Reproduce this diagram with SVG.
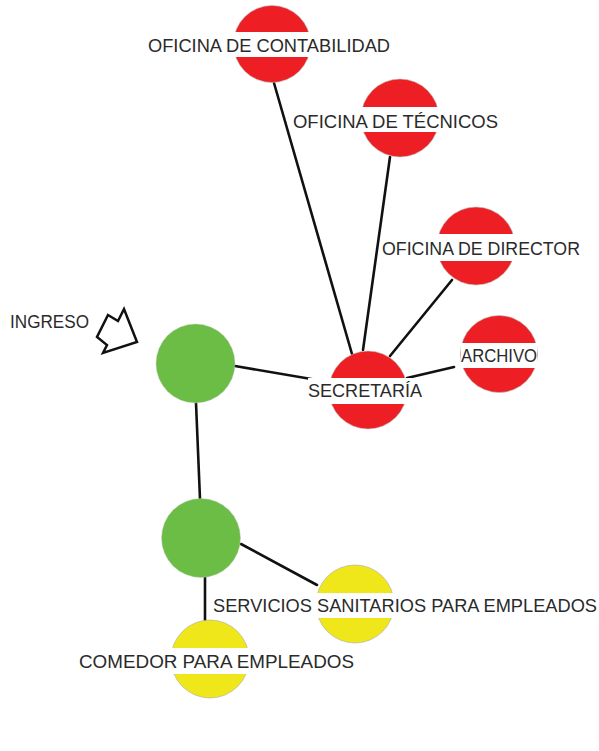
<svg xmlns="http://www.w3.org/2000/svg" width="599" height="751" viewBox="0 0 599 751">
<style>
.red{fill:#ED1F24;stroke:#b8b8b8;stroke-width:0.6}
.green{fill:#6BBD45;stroke:#c8c8c8;stroke-width:0.4}
.yellow{fill:#F0E71A;stroke:#a8a8a8;stroke-width:0.6}
.bg{fill:#ffffff}
.lbl{font-family:"Liberation Sans",Arial,sans-serif;font-size:18px;fill:#2a2a2a}
.edge{stroke:#111;stroke-width:2.6;stroke-linecap:round;fill:none}
</style>
<rect width="599" height="751" fill="#ffffff"/>
<g id="connectors">
<line class="edge" x1="274" y1="83" x2="352" y2="354"/>
<line class="edge" x1="390" y1="157" x2="363" y2="350"/>
<line class="edge" x1="452" y1="280" x2="390" y2="356"/>
<line class="edge" x1="454" y1="367" x2="407" y2="378"/>
<line class="edge" x1="235" y1="366" x2="323" y2="381"/>
<line class="edge" x1="196" y1="403" x2="200" y2="499"/>
<line class="edge" x1="241" y1="544" x2="317" y2="585"/>
<line class="edge" x1="205" y1="577" x2="205" y2="620"/>
</g>
<g id="contabilidad">
<circle class="red" cx="272" cy="44" r="38.5"/>
<rect class="bg" x="148" y="32" width="242" height="25"/>
<text class="lbl" x="148" y="52" textLength="242" lengthAdjust="spacingAndGlyphs">OFICINA DE CONTABILIDAD</text>
</g>
<g id="tecnicos">
<circle class="red" cx="400" cy="118" r="39"/>
<rect class="bg" x="293" y="107" width="205" height="25"/>
<text class="lbl" x="293" y="128" textLength="205" lengthAdjust="spacingAndGlyphs">OFICINA DE TÉCNICOS</text>
</g>
<g id="director">
<circle class="red" cx="476" cy="246" r="39"/>
<rect class="bg" x="382" y="234" width="198" height="27"/>
<text class="lbl" x="382" y="255" textLength="198" lengthAdjust="spacingAndGlyphs">OFICINA DE DIRECTOR</text>
</g>
<g id="archivo">
<circle class="red" cx="499" cy="354" r="38.5"/>
<rect class="bg" x="461" y="343" width="76" height="25"/>
<text class="lbl" x="461" y="362" textLength="76" lengthAdjust="spacingAndGlyphs">ARCHIVO</text>
</g>
<g id="secretaria">
<circle class="red" cx="368" cy="390" r="39"/>
<rect class="bg" x="308" y="378" width="114" height="26"/>
<text class="lbl" x="308" y="397" textLength="114" lengthAdjust="spacingAndGlyphs">SECRETARÍA</text>
</g>
<g id="ingreso">
<text class="lbl" x="10" y="328" textLength="79" lengthAdjust="spacingAndGlyphs">INGRESO</text>
<polygon points="108,315 118,321 124,309 137,342 103,353 107,345 97,337" fill="#ffffff" stroke="#111" stroke-width="2.5" stroke-linejoin="miter"/>
</g>
<g id="hub1">
<circle class="green" cx="195.5" cy="363.5" r="39.5"/>
</g>
<g id="hub2">
<circle class="green" cx="201" cy="538" r="39.5"/>
</g>
<g id="servicios">
<circle class="yellow" cx="355" cy="604" r="39"/>
<rect class="bg" x="213" y="593" width="384" height="25"/>
<text class="lbl" x="213" y="612" textLength="384" lengthAdjust="spacingAndGlyphs">SERVICIOS SANITARIOS PARA EMPLEADOS</text>
</g>
<g id="comedor">
<circle class="yellow" cx="210" cy="659" r="39"/>
<rect class="bg" x="79" y="648" width="275" height="26"/>
<text class="lbl" x="79" y="668" textLength="275" lengthAdjust="spacingAndGlyphs">COMEDOR PARA EMPLEADOS</text>
</g>
</svg>
